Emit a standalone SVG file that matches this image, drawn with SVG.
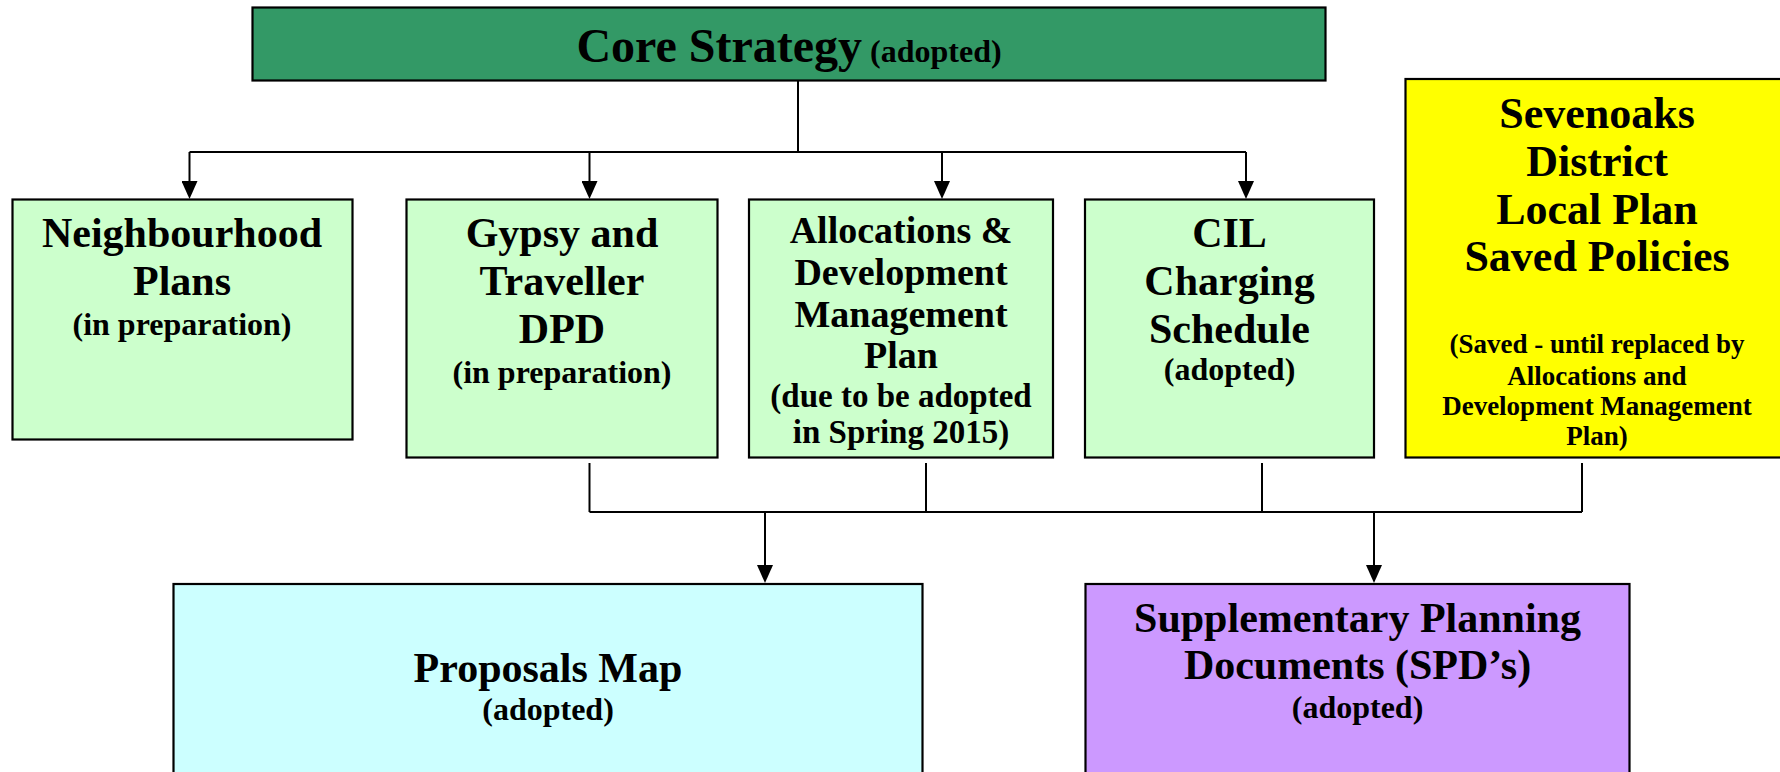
<svg xmlns="http://www.w3.org/2000/svg" width="1780" height="772" viewBox="0 0 1780 772">
<style>
  .box { stroke: #000; stroke-width: 2.2; }
  .t { font-family: "Liberation Serif", "Times New Roman", serif; font-weight: bold; fill: #000; text-anchor: middle; }
  .m { font-size: 42px; }
  .s { font-size: 32px; }
  .a { font-size: 38px; }
  .as { font-size: 33px; }
  .y { font-size: 44px; }
  .ys { font-size: 27px; }
  .c { stroke: #000; stroke-width: 2; fill: none; }
  .ca { stroke: #000; stroke-width: 2; fill: none; marker-end: url(#ah); }
</style>
<defs>
  <marker id="ah" viewBox="0 0 18 16" refX="9" refY="8" markerWidth="18" markerHeight="16" markerUnits="userSpaceOnUse" orient="auto">
    <path d="M0,0 L18,8 L0,16 z" fill="#000"/>
  </marker>
</defs>
<rect width="1780" height="772" fill="#fff"/>

<g id="connectors">
  <path class="c" d="M798,81 V152"/>
  <path class="c" d="M189.5,152 H1246"/>
  <path class="ca" d="M189.5,152 V190"/>
  <path class="ca" d="M589.5,152 V190"/>
  <path class="ca" d="M942,152 V190"/>
  <path class="ca" d="M1246,152 V190"/>
  <path class="c" d="M589.5,463 V512"/>
  <path class="c" d="M926,463 V512"/>
  <path class="c" d="M1262,463 V512"/>
  <path class="c" d="M1582,463 V512"/>
  <path class="c" d="M589.5,512 H1582"/>
  <path class="ca" d="M765,512 V574"/>
  <path class="ca" d="M1374,512 V574"/>
</g>

<g id="core">
  <rect class="box" x="252.5" y="7.5" width="1073" height="73" fill="#339966"/>
  <text class="t" x="789" y="62"><tspan style="font-size:48px">Core Strategy</tspan><tspan style="font-size:32px"> (adopted)</tspan></text>
</g>

<g id="neighbourhood">
  <rect class="box" x="12.5" y="199.5" width="340" height="240" fill="#CCFFCC"/>
  <text class="t m" x="182" y="247">Neighbourhood</text>
  <text class="t m" x="182" y="295">Plans</text>
  <text class="t s" x="182" y="335">(in preparation)</text>
</g>

<g id="gypsy">
  <rect class="box" x="406.5" y="199.5" width="311" height="258" fill="#CCFFCC"/>
  <text class="t m" x="562" y="247">Gypsy and</text>
  <text class="t m" x="562" y="295">Traveller</text>
  <text class="t m" x="562" y="343">DPD</text>
  <text class="t s" x="562" y="383">(in preparation)</text>
</g>

<g id="allocations">
  <rect class="box" x="749" y="199.5" width="304" height="258" fill="#CCFFCC"/>
  <text class="t a" x="901" y="243">Allocations &amp;</text>
  <text class="t a" x="901" y="285">Development</text>
  <text class="t a" x="901" y="327">Management</text>
  <text class="t a" x="901" y="368">Plan</text>
  <text class="t as" x="901" y="407">(due to be adopted</text>
  <text class="t as" x="901" y="443">in Spring 2015)</text>
</g>

<g id="cil">
  <rect class="box" x="1085" y="199.5" width="289" height="258" fill="#CCFFCC"/>
  <text class="t m" x="1229.5" y="247">CIL</text>
  <text class="t m" x="1229.5" y="295">Charging</text>
  <text class="t m" x="1229.5" y="343">Schedule</text>
  <text class="t s" x="1229.5" y="380">(adopted)</text>
</g>

<g id="saved">
  <rect class="box" x="1405.5" y="79" width="390" height="378.5" fill="#FFFF00"/>
  <text class="t y" x="1597" y="128">Sevenoaks</text>
  <text class="t y" x="1597" y="176">District</text>
  <text class="t y" x="1597" y="224">Local Plan</text>
  <text class="t y" x="1597" y="271">Saved Policies</text>
  <text class="t ys" x="1597" y="353">(Saved - until replaced by</text>
  <text class="t ys" x="1597" y="385">Allocations and</text>
  <text class="t ys" x="1597" y="415">Development Management</text>
  <text class="t ys" x="1597" y="445">Plan)</text>
</g>

<g id="proposals">
  <rect class="box" x="173.5" y="584" width="749" height="220" fill="#CCFFFF"/>
  <text class="t m" x="548" y="682">Proposals Map</text>
  <text class="t s" x="548" y="720">(adopted)</text>
</g>

<g id="spd">
  <rect class="box" x="1085.5" y="584" width="544" height="220" fill="#CC99FF"/>
  <text class="t m" x="1357.5" y="632">Supplementary Planning</text>
  <text class="t m" x="1357.5" y="679">Documents (SPD’s)</text>
  <text class="t s" x="1357.5" y="718">(adopted)</text>
</g>
</svg>
